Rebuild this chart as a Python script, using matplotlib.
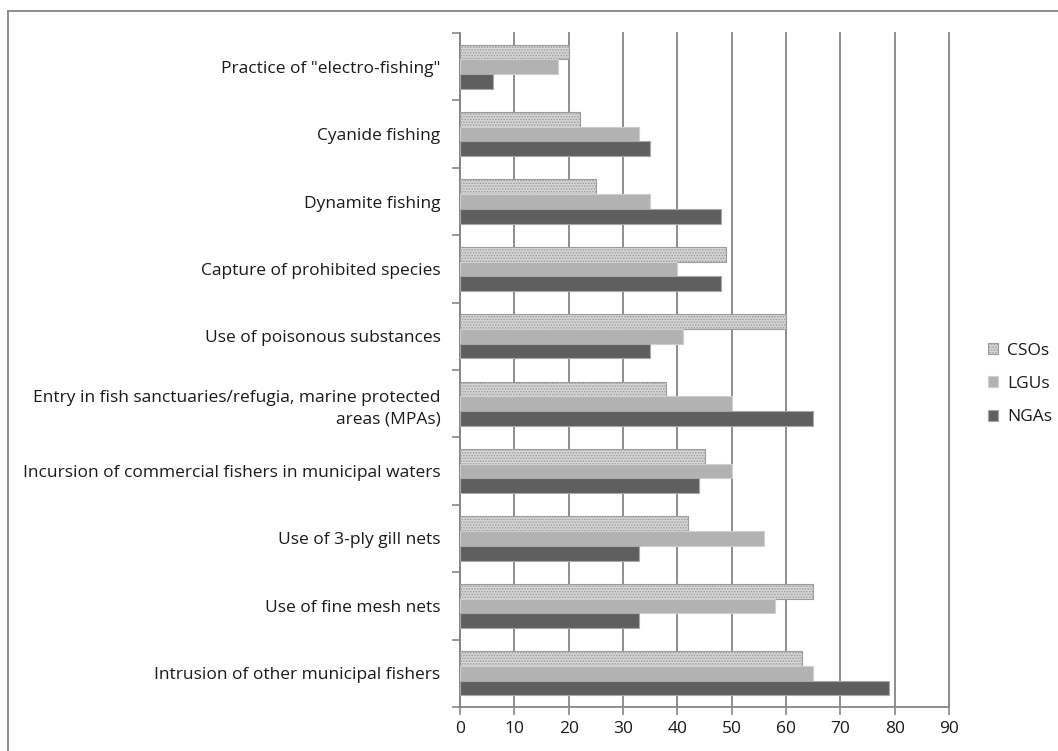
import numpy as np
import matplotlib.pyplot as plt
from matplotlib.lines import Line2D

plt.rcParams['font.family'] = ['Open Sans', 'DejaVu Sans']
plt.rcParams['hatch.linewidth'] = 0.8

# Categorias, de arriba hacia abajo
categorias = [
    'Practice of "electro-fishing"',
    'Cyanide fishing',
    'Dynamite fishing',
    'Capture of prohibited species',
    'Use of poisonous substances',
    'Entry in fish sanctuaries/refugia, marine protected\nareas (MPAs)',
    'Incursion of commercial fishers in municipal waters',
    'Use of 3-ply gill nets',
    'Use of fine mesh nets',
    'Intrusion of other municipal fishers',
]

csos = [20, 22, 25, 49, 60, 38, 45, 42, 65, 63]
lgus = [18, 33, 35, 40, 41, 50, 50, 56, 58, 65]
ngas = [6, 35, 48, 48, 35, 65, 44, 33, 33, 79]

ticks_x = list(range(0, 91, 10))

fig = plt.figure(figsize=(10.58, 7.51), dpi=100)
ax = fig.add_axes([460 / 1058, 1 - 707 / 751, (949 - 460) / 1058, (707 - 33) / 751])

y = np.arange(len(categorias))
h = 0.218
gris = '#868686'
texto = '#1a1a1a'
fs = 12.5

ax.barh(y - h, csos, height=h, facecolor='#d6d6d6', edgecolor='#9c9c9c',
        hatch='......', linewidth=0.8, label='CSOs', zorder=3)
ax.barh(y, lgus, height=h, facecolor='#b2b2b2', edgecolor='#cfcfcf',
        linewidth=0.8, label='LGUs', zorder=3)
ax.barh(y + h, ngas, height=h, facecolor='#5f5f5f', edgecolor='#a8a8a8',
        linewidth=0.8, label='NGAs', zorder=3)

ax.set_xlim(0, 90)
ax.set_ylim(len(categorias) - 0.5, -0.5)

# Cuadricula vertical y ejes estilo hoja de calculo
ax.set_xticks(ticks_x)
ax.xaxis.grid(True, color=gris, linewidth=1.3, zorder=0)
for linea in ax.get_xgridlines():
    linea.set_clip_on(False)
ax.set_axisbelow(True)
ax.set_yticks(y)
ax.set_yticklabels(categorias, ha='right', fontsize=fs, color=texto,
                   linespacing=1.45)
ax.set_yticks(np.arange(-0.5, len(categorias), 1), minor=True)
ax.tick_params(axis='y', which='major', length=0, pad=14)
ax.tick_params(axis='y', which='minor', length=6, width=1.2, color=gris)
ax.tick_params(axis='x', length=6, width=1.2, color=gris, labelsize=fs,
               labelcolor=texto, pad=4)

for lado in ['top', 'right']:
    ax.spines[lado].set_visible(False)
for lado in ['left', 'bottom']:
    ax.spines[lado].set_color(gris)
    ax.spines[lado].set_linewidth(1.3)

ax.legend(loc='center left', bbox_to_anchor=(988 / 1058, 1 - 384 / 751),
          bbox_transform=fig.transFigure, frameon=False, fontsize=fs,
          handlelength=0.6, handleheight=0.6, handletextpad=0.5,
          labelspacing=1.0, borderpad=0, borderaxespad=0,
          labelcolor=texto)

# Marco exterior del grafico
fig.add_artist(Line2D([8 / 1058, 8 / 1058], [0, 1 - 11 / 751],
                      transform=fig.transFigure, color=gris, linewidth=1.3))
fig.add_artist(Line2D([8 / 1058, 1], [1 - 11 / 751, 1 - 11 / 751],
                      transform=fig.transFigure, color=gris, linewidth=1.3))

fig.savefig('out.png', dpi=100)
